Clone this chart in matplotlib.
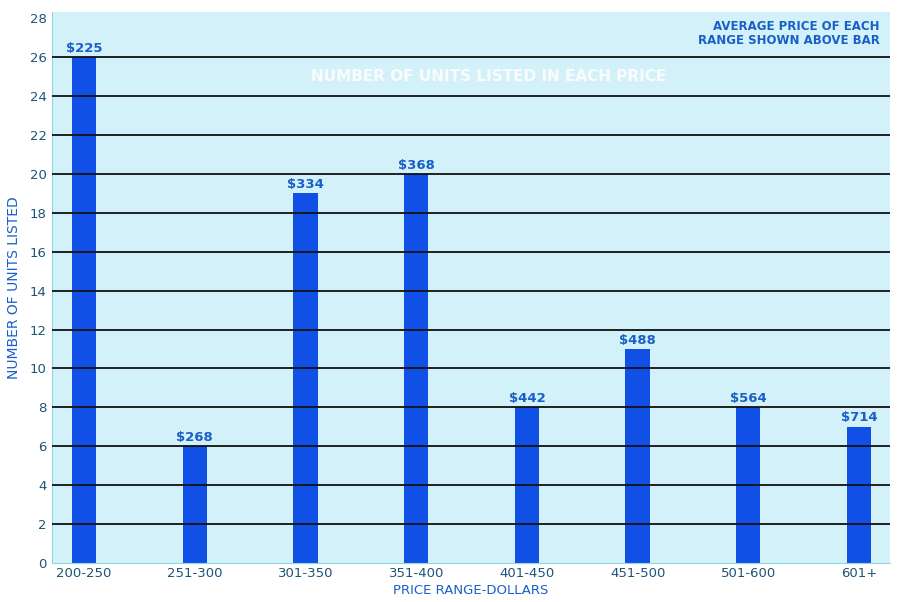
import matplotlib
matplotlib.use("Agg")
import matplotlib.pyplot as plt
import numpy as np

ranges = ["200-250", "251-300", "301-350", "351-400", "401-450", "451-500", "501-600", "601+"]
units = [26, 6, 19, 20, 8, 11, 8, 7]
avg_price = ["$225", "$268", "$334", "$368", "$442", "$488", "$564", "$714"]

bg = "#d3f1f8"
bar_col = "#1150e6"
txt_col = "#1a5fc8"
tick_col = "#1e5478"

fig = plt.figure(figsize=(8.98, 6.02), dpi=100)
ax = fig.add_axes([0.058, 0.0648, 0.933, 0.915])
ax.set_facecolor(bg)

x = np.arange(len(ranges))
ax.bar(x, units, width=0.22, color=bar_col, zorder=2)
for i, (v, p) in enumerate(zip(units, avg_price)):
    ax.text(i, v + 0.12, p, ha="center", va="bottom", color=txt_col,
            fontsize=9.5, fontweight="bold", zorder=4)

# black rules across the whole chart, over the bars
for yv in range(2, 28, 2):
    ax.axhline(yv, color="#111111", lw=1.3, zorder=3)

ax.set_xlim(-0.29, 7.28)
ax.set_ylim(0, 28.31)
ax.set_yticks(range(0, 29, 2))
ax.set_xticks(x)
ax.set_xticklabels(ranges)
ax.tick_params(axis="both", length=0, colors=tick_col, labelsize=9.5)
ax.tick_params(axis="x", pad=3)
ax.tick_params(axis="y", pad=4)

for s in ["top", "right"]:
    ax.spines[s].set_visible(False)
ax.spines["left"].set_color("#8fd8e8")
ax.spines["bottom"].set_color("#8fd8e8")

ax.set_xlabel("PRICE RANGE-DOLLARS", color=txt_col, fontsize=9.5, labelpad=3)
ax.set_ylabel("NUMBER OF UNITS LISTED", color=txt_col, fontsize=10, labelpad=6)

ax.text(3.65, 25.0, "NUMBER OF UNITS LISTED IN EACH PRICE",
        ha="center", va="center", color="white", alpha=0.85,
        fontsize=11, fontweight="bold", zorder=4)
ax.text(0.988, 0.985, "AVERAGE PRICE OF EACH\nRANGE SHOWN ABOVE BAR",
        transform=ax.transAxes, ha="right", va="top", color=txt_col,
        fontsize=8.5, fontweight="bold", linespacing=1.1, zorder=4)

fig.savefig("out.png", dpi=100)
